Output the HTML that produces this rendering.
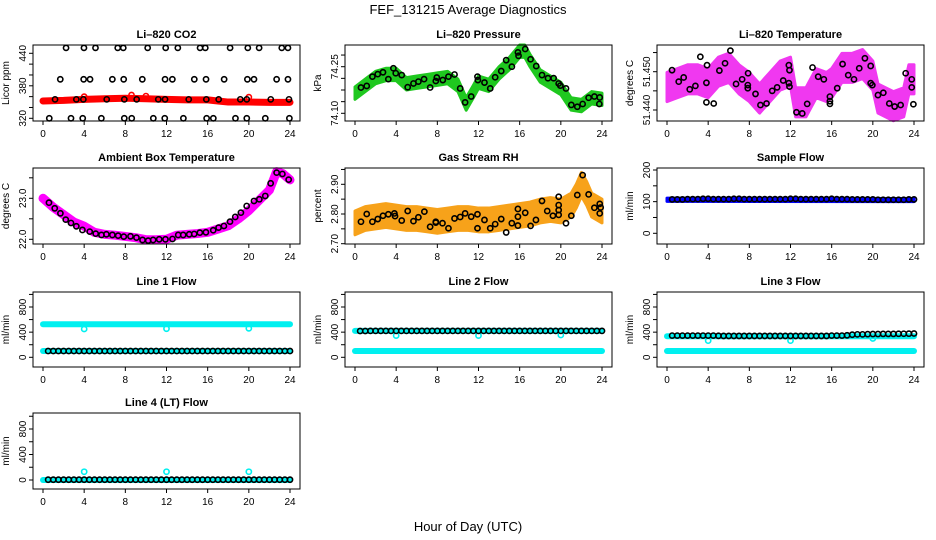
<!DOCTYPE html>
<html><head><meta charset="utf-8"><style>
html,body{margin:0;padding:0;background:#fff}
svg{display:block;font-family:"Liberation Sans",Arial,sans-serif}
</style></head><body>
<svg id="chart" width="936" height="540" viewBox="0 0 936 540" xmlns="http://www.w3.org/2000/svg">
<text x="468" y="14" text-anchor="middle" font-size="13">FEF_131215  Average Diagnostics</text>
<text x="468" y="531" text-anchor="middle" font-size="13">Hour of Day (UTC)</text>
</svg>
<script>
// ---------- data ----------
const xTicks=[0,4,8,12,16,20,24];
const halfHours=[0.5,1,1.5,2,2.5,3,3.5,4,4.5,5,5.5,6,6.5,7,7.5,8,8.5,9,9.5,10,10.5,11,11.5,12,12.5,13,13.5,14,14.5,15,15.5,16,16.5,17,17.5,18,18.5,19,19.5,20,20.5,21,21.5,22,22.5,23,23.5,24];

// CO2
const co2BandHours=[0,2,4,6,8,10,12,14,16,17,18,20,22,24];
const co2BandVals=[352,353,355,356,357,356,355,354,354,352,350,350,349.5,349.5];
const co2H450=[2.24,3.98,5.1,7.26,7.8,10.17,11.92,13.1,15.26,15.77,18.18,19.9,21.0,23.2,23.8];
const co2H392=[1.68,3.95,4.57,6.74,7.84,9.65,11.86,12.57,14.7,15.84,17.6,19.86,20.5,22.7,23.8];
const co2H355=[1.17,3.24,3.92,6.19,7.9,9.1,11.2,11.86,14.16,15.87,17.07,19.17,19.8,22.13,23.9];
const co2H320=[0.61,2.72,3.86,5.67,7.9,8.62,10.72,11.83,13.64,15.9,16.55,18.7,19.8,21.6,23.94];
const co2RedOutHours=[4,8.6,10,20];
const co2RedOutVals=[360,363,361,359];

// Pressure
const presBandHours=[0,1,2,3,4,5,6,7,8,9,10,10.8,11.5,12,13,14,15,16,16.5,17,18,19,20,21,22,23,24];
const presBandVals=[74.165,74.19,74.215,74.225,74.225,74.195,74.2,74.205,74.21,74.215,74.19,74.13,74.17,74.2,74.19,74.23,74.26,74.3,74.3,74.27,74.22,74.2,74.18,74.13,74.125,74.15,74.145];
const presHours=[0.58,1.14,1.69,2.21,2.72,3.24,3.73,3.96,4.54,5.12,5.68,6.16,6.71,7.30,7.85,7.95,8.53,9.08,9.67,10.22,10.70,11.29,11.90,11.94,12.58,13.14,13.62,14.21,14.69,15.24,15.83,15.89,16.54,17.06,17.61,18.17,18.75,19.30,19.79,19.95,20.50,21.02,21.60,22.12,22.70,23.26,23.78,23.74];
const presVals=[74.183,74.188,74.218,74.226,74.232,74.210,74.245,74.229,74.223,74.184,74.196,74.202,74.210,74.183,74.204,74.215,74.207,74.218,74.225,74.180,74.135,74.154,74.218,74.207,74.199,74.180,74.216,74.236,74.271,74.250,74.296,74.285,74.307,74.274,74.252,74.223,74.213,74.213,74.196,74.189,74.180,74.127,74.121,74.130,74.150,74.154,74.151,74.130];

// Li-820 temperature
const ltBandHours=[0,1,2,3,4,5,6,7,8,9,10,11,12,12.5,13.5,14.5,15.5,16,17,18,19,20,20.5,22,23,23.5,24];
const ltBandVals=[51.446,51.447,51.448,51.448,51.447,51.450,51.451,51.448,51.446,51.443,51.446,51.449,51.450,51.442,51.442,51.447,51.446,51.447,51.451,51.451,51.452,51.449,51.443,51.441,51.442,51.448,51.448];
const ltHours=[0.49,1.14,1.62,2.21,2.76,3.24,3.83,3.89,3.83,4.54,5.09,5.64,6.16,6.71,7.30,7.85,7.85,7.88,8.60,9.08,9.67,10.22,10.70,11.29,11.84,11.90,11.90,11.84,12.58,13.14,13.62,14.14,14.69,15.24,15.83,15.83,15.83,16.54,17.06,17.61,18.17,18.68,19.23,19.79,19.79,19.95,20.50,21.02,21.60,22.12,22.70,23.19,23.78,23.78,23.94];
const ltVals=[51.4504,51.4474,51.4485,51.4454,51.4463,51.4539,51.4420,51.4517,51.4471,51.4417,51.4503,51.4522,51.4555,51.4468,51.4480,51.4465,51.4457,51.4496,51.4442,51.4413,51.4417,51.4450,51.4459,51.4477,51.4470,51.4461,51.4504,51.4517,51.4394,51.4391,51.4416,51.4511,51.4487,51.4480,51.4435,51.4423,51.4416,51.4457,51.4520,51.4491,51.4480,51.4509,51.4535,51.4515,51.4470,51.4465,51.4439,51.4445,51.4417,51.4409,51.4413,51.4496,51.4480,51.4459,51.4415];

// Ambient box temperature
const ambBandHours=[0,1,2,3,4,5,6,7,8,9,10,11,12,13,14,15,16,17,18,19,20,21,22,22.7,23.3,24];
const ambBandVals=[23.0,22.78,22.6,22.42,22.32,22.17,22.12,22.1,22.07,22.04,21.99,21.99,22.0,22.1,22.12,22.14,22.17,22.25,22.33,22.5,22.7,22.95,23.2,23.65,23.6,23.45];
const ambHours=[0.58,1.14,1.69,2.21,2.72,3.24,3.83,4.54,5.12,5.68,6.16,6.74,7.30,7.85,8.5,9.08,9.67,10.22,10.70,11.29,11.90,12.58,13.14,13.62,14.21,14.69,15.24,15.83,16.54,17.06,17.58,18.17,18.68,19.23,19.79,20.50,21.02,21.60,22.12,22.70,23.26,23.87];
const ambVals=[22.894,22.756,22.634,22.480,22.398,22.317,22.228,22.187,22.138,22.106,22.122,22.106,22.089,22.065,22.073,22.041,21.984,21.967,21.984,22.0,22.0,22.008,22.106,22.106,22.122,22.130,22.163,22.171,22.220,22.285,22.325,22.431,22.545,22.650,22.813,22.935,22.976,23.057,23.366,23.626,23.593,23.455];

// Gas stream RH
const rhBandHours=[0,1,2,3,4,5,6,7,8,9,10,11,12,13,14,15,16,17,18,19,20,21,21.5,22,22.5,23,23.5,24];
const rhBandVals=[2.77,2.785,2.79,2.795,2.79,2.785,2.785,2.78,2.775,2.78,2.785,2.785,2.78,2.78,2.785,2.79,2.795,2.8,2.81,2.815,2.81,2.83,2.86,2.9,2.87,2.83,2.82,2.81];
const rhHours=[0.58,1.14,1.69,2.21,2.72,3.24,3.83,3.89,4.54,5.12,5.68,6.16,6.74,7.30,7.85,7.85,8.5,9.08,9.67,10.22,10.70,11.29,11.90,11.90,12.58,13.14,13.62,14.21,14.69,15.24,15.83,15.83,15.83,16.54,17.06,17.58,18.17,18.68,19.23,19.79,19.79,19.79,19.79,20.50,21.02,21.60,22.12,22.70,23.26,23.78,23.78,23.87];
const rhVals=[2.774,2.800,2.774,2.783,2.794,2.799,2.802,2.793,2.778,2.810,2.776,2.789,2.808,2.757,2.774,2.771,2.769,2.752,2.785,2.790,2.802,2.791,2.799,2.752,2.780,2.752,2.766,2.783,2.738,2.769,2.817,2.791,2.761,2.804,2.760,2.780,2.844,2.810,2.794,2.830,2.858,2.813,2.797,2.769,2.794,2.864,2.931,2.866,2.821,2.834,2.802,2.822];

// Sample flow
const sampleBandHours=[0,24];
const sampleBandVals=[106,105];
const sampleVals=[107,107,107,108,108,108,109,109,108,108,108,108,109,109,108,108,108,108,108,108,108,108,108,109,109,108,108,108,108,108,108,109,108,108,108,107,107,107,107,107,106,106,106,106,106,106,107,107];

// Line flows
const dipHours=[4,12,20];
const line1CyanHigh=525, line1CyanLow=100;
const line1Dips=[450,455,460];
const line1Black=[100,100,100,100,100,100,100,100,100,100,100,100,100,100,100,100,100,100,100,100,100,100,100,100,100,100,100,100,100,100,100,100,100,100,100,100,100,100,100,100,100,100,100,100,100,100,100,100];
const line2CyanHigh=420, line2CyanLow=100;
const line2Dips=[345,345,355];
const line2Black=[418,418,420,420,420,420,420,420,420,420,420,420,420,420,420,420,420,420,420,420,420,420,420,420,420,420,420,420,420,420,420,420,420,420,420,420,420,420,420,420,420,420,420,420,420,420,420,420];
const line3CyanHigh=335, line3CyanLow=100;
const line3Dips=[265,265,300];
const line3Black=[345,345,345,345,345,345,345,345,345,342,340,340,340,340,340,340,340,340,340,340,340,340,340,340,340,340,340,340,340,340,340,345,345,345,350,360,365,365,368,370,370,372,372,372,374,375,376,378];
const line4CyanBase=0;
const line4Dips=[130,130,130];
const line4Black=[5,5,5,5,5,5,5,5,5,5,5,5,5,5,5,5,5,5,5,5,5,5,5,5,5,5,5,5,5,5,5,5,5,5,5,5,5,5,5,5,5,5,5,5,5,5,5,5];

// ---------- drawing ----------
const NS="http://www.w3.org/2000/svg";
const svg=document.getElementById('chart');
const cols=[[33,300],[345,612],[657,924]];
const rows=[[45,121],[168,244],[292,367],[413,489]];
function mk(tag,attrs,parent){const e=document.createElementNS(NS,tag);for(const k in attrs)e.setAttribute(k,attrs[k]);(parent||svg).appendChild(e);return e;}

function panel(c,r,name,title,ylab,v0,p0,v1,p1,ticks,labelVals,labelStrs){
  const L=cols[c][0],R=cols[c][1],T=rows[r][0],B=rows[r][1];
  const g=mk('g',{});
  
  
  const x=h=>L+10+h*(R-L-20)/24;
  const y=v=>p0+(v-v0)*(p1-p0)/(v1-v0);
  const tt=mk('text',{x:(L+R)/2,y:T-7,'text-anchor':'middle','font-size':11,'font-weight':'bold'},g);
  tt.textContent=title;
  
  
  const yl=mk('text',{transform:`translate(${L-24},${(T+B)/2}) rotate(-90)`,'text-anchor':'middle','font-size':10},g);
  yl.textContent=ylab;
  
  
  const plot=mk('g',{},g);
  const box=mk('rect',{x:L,y:T,width:R-L,height:B-T,fill:'none',stroke:'#000','stroke-width':1},g);
  
  
  xTicks.forEach(h=>{
    mk('line',{x1:x(h),x2:x(h),y1:B,y2:B+4,stroke:'#000'},g);
    const t=mk('text',{x:x(h),y:B+16,'text-anchor':'middle','font-size':10},g);
    t.textContent=h;
    
    
  });
  ticks.forEach(v=>{const yy=y(v);if(yy>=T-0.5&&yy<=B+0.5)mk('line',{x1:L-4,x2:L,y1:yy,y2:yy,stroke:'#000'},g);});
  labelVals.forEach((v,i)=>{
    const t=mk('text',{transform:`translate(${L-7},${y(v)}) rotate(-90)`,'text-anchor':'middle','font-size':10},g);
    t.textContent=labelStrs[i];
    
    
  });
  return {g:plot,x,y};
}
function band(P,hours,vals,half,fill,name){
  let up=hours.map((h,i)=>P.x(h)+','+P.y(vals[i]+half));
  let dn=hours.map((h,i)=>P.x(h)+','+P.y(vals[i]-half)).reverse();
  const p=mk('polygon',{points:up.concat(dn).join(' '),fill:fill,stroke:fill,'stroke-width':3,'stroke-linejoin':'round'},P.g);
  
  
}
function thick(P,hours,vals,w,color,name){
  const p=mk('polyline',{points:hours.map((h,i)=>P.x(h)+','+P.y(vals[i])).join(' '),fill:'none',stroke:color,'stroke-width':w,'stroke-linecap':'round','stroke-linejoin':'round'},P.g);
  
  
}
function pts(P,hours,vals,color,name){
  hours.forEach((h,i)=>{
    const c=mk('circle',{cx:P.x(h),cy:P.y(vals[i]),r:2.6,fill:'none',stroke:color,'stroke-width':1.6},P.g);
    
    
  });
}
const same=(arr,v)=>arr.map(()=>v);

// Row 1
let P=panel(0,0,'co2','Li–820 CO2','Licor ppm',320,118.3,440,53.3,[320,340,360,380,400,420,440],[320,380,440],['320','380','440']);
thick(P,co2BandHours,co2BandVals,7,'#ff0000','co2-red-band');
pts(P,co2RedOutHours,co2RedOutVals,'#ff0000','co2-red-point');
pts(P,co2H450,same(co2H450,450),'#000','co2-black-point');
pts(P,co2H392,same(co2H392,392),'#000','co2-black-point');
pts(P,co2H355,same(co2H355,355),'#000','co2-black-point');
pts(P,co2H320,same(co2H320,320),'#000','co2-black-point');

P=panel(1,0,'pressure','Li–820 Pressure','kPa',74.10,113.3,74.25,66.7,[74.10,74.1375,74.175,74.2125,74.25,74.2875],[74.10,74.25],['74.10','74.25']);
band(P,presBandHours,presBandVals,0.02,'#1fc81f','pressure-green-band');
pts(P,presHours,presVals,'#000','pressure-black-point');

P=panel(2,0,'li820-temp','Li–820 Temperature','degrees C',51.440,110,51.450,71.7,[51.440,51.445,51.450,51.455],[51.440,51.450],['51.440','51.450']);
band(P,ltBandHours,ltBandVals,0.0038,'#f038f0','li820-temp-magenta-band');
pts(P,ltHours,ltVals,'#000','li820-temp-black-point');

// Row 2
P=panel(0,1,'ambient','Ambient Box Temperature','degrees C',22,239.3,23,198.3,[22,22.5,23,23.5],[22,23],['22.0','23.0']);
thick(P,ambBandHours,ambBandVals,9,'#ff00ff','ambient-magenta-band');
pts(P,ambHours,ambVals,'#000','ambient-black-point');

P=panel(1,1,'rh','Gas Stream RH','percent',2.70,243.7,2.90,184.3,[2.70,2.75,2.80,2.85,2.90,2.95],[2.70,2.80,2.90],['2.70','2.80','2.90']);
band(P,rhBandHours,rhBandVals,0.04,'#f7a21a','rh-orange-band');
pts(P,rhHours,rhVals,'#000','rh-black-point');

P=panel(2,1,'sample-flow','Sample Flow','ml/min',0,233.3,200,170,[0,50,100,150,200],[0,100,200],['0','100','200']);
band(P,sampleBandHours,sampleBandVals,5,'#0000ff','sample-flow-blue-band');
pts(P,halfHours,sampleVals,'#000','sample-flow-black-point');

// Row 3
const flowTicks=[0,200,400,600,800,1000];
P=panel(0,2,'line1','Line 1 Flow','ml/min',0,357.3,800,307,flowTicks,[0,400,800],['0','400','800']);
thick(P,[0,24],[line1CyanHigh,line1CyanHigh],6,'#00f0f0','line1-cyan-high');
thick(P,[0,24],[line1CyanLow,line1CyanLow],6,'#00f0f0','line1-cyan-low');
pts(P,dipHours,line1Dips,'#00f0f0','line1-cyan-dip');
pts(P,halfHours,line1Black,'#000','line1-black-point');

P=panel(1,2,'line2','Line 2 Flow','ml/min',0,357.3,800,307,flowTicks,[0,400,800],['0','400','800']);
thick(P,[0,24],[line2CyanHigh,line2CyanHigh],6,'#00f0f0','line2-cyan-high');
thick(P,[0,24],[line2CyanLow,line2CyanLow],6,'#00f0f0','line2-cyan-low');
pts(P,dipHours,line2Dips,'#00f0f0','line2-cyan-dip');
pts(P,halfHours,line2Black,'#000','line2-black-point');

P=panel(2,2,'line3','Line 3 Flow','ml/min',0,357.3,800,307,flowTicks,[0,400,800],['0','400','800']);
thick(P,[0,24],[line3CyanHigh,line3CyanHigh],6,'#00f0f0','line3-cyan-high');
thick(P,[0,24],[line3CyanLow,line3CyanLow],6,'#00f0f0','line3-cyan-low');
pts(P,dipHours,line3Dips,'#00f0f0','line3-cyan-dip');
pts(P,halfHours,line3Black,'#000','line3-black-point');

// Row 4
P=panel(0,3,'line4','Line 4 (LT) Flow','ml/min',0,480,800,429,flowTicks,[0,400,800],['0','400','800']);
thick(P,[0,24],[line4CyanBase,line4CyanBase],6,'#00f0f0','line4-cyan-base');
pts(P,dipHours,line4Dips,'#00f0f0','line4-cyan-spike');
pts(P,halfHours,line4Black,'#000','line4-black-point');
</script>
</body></html>
